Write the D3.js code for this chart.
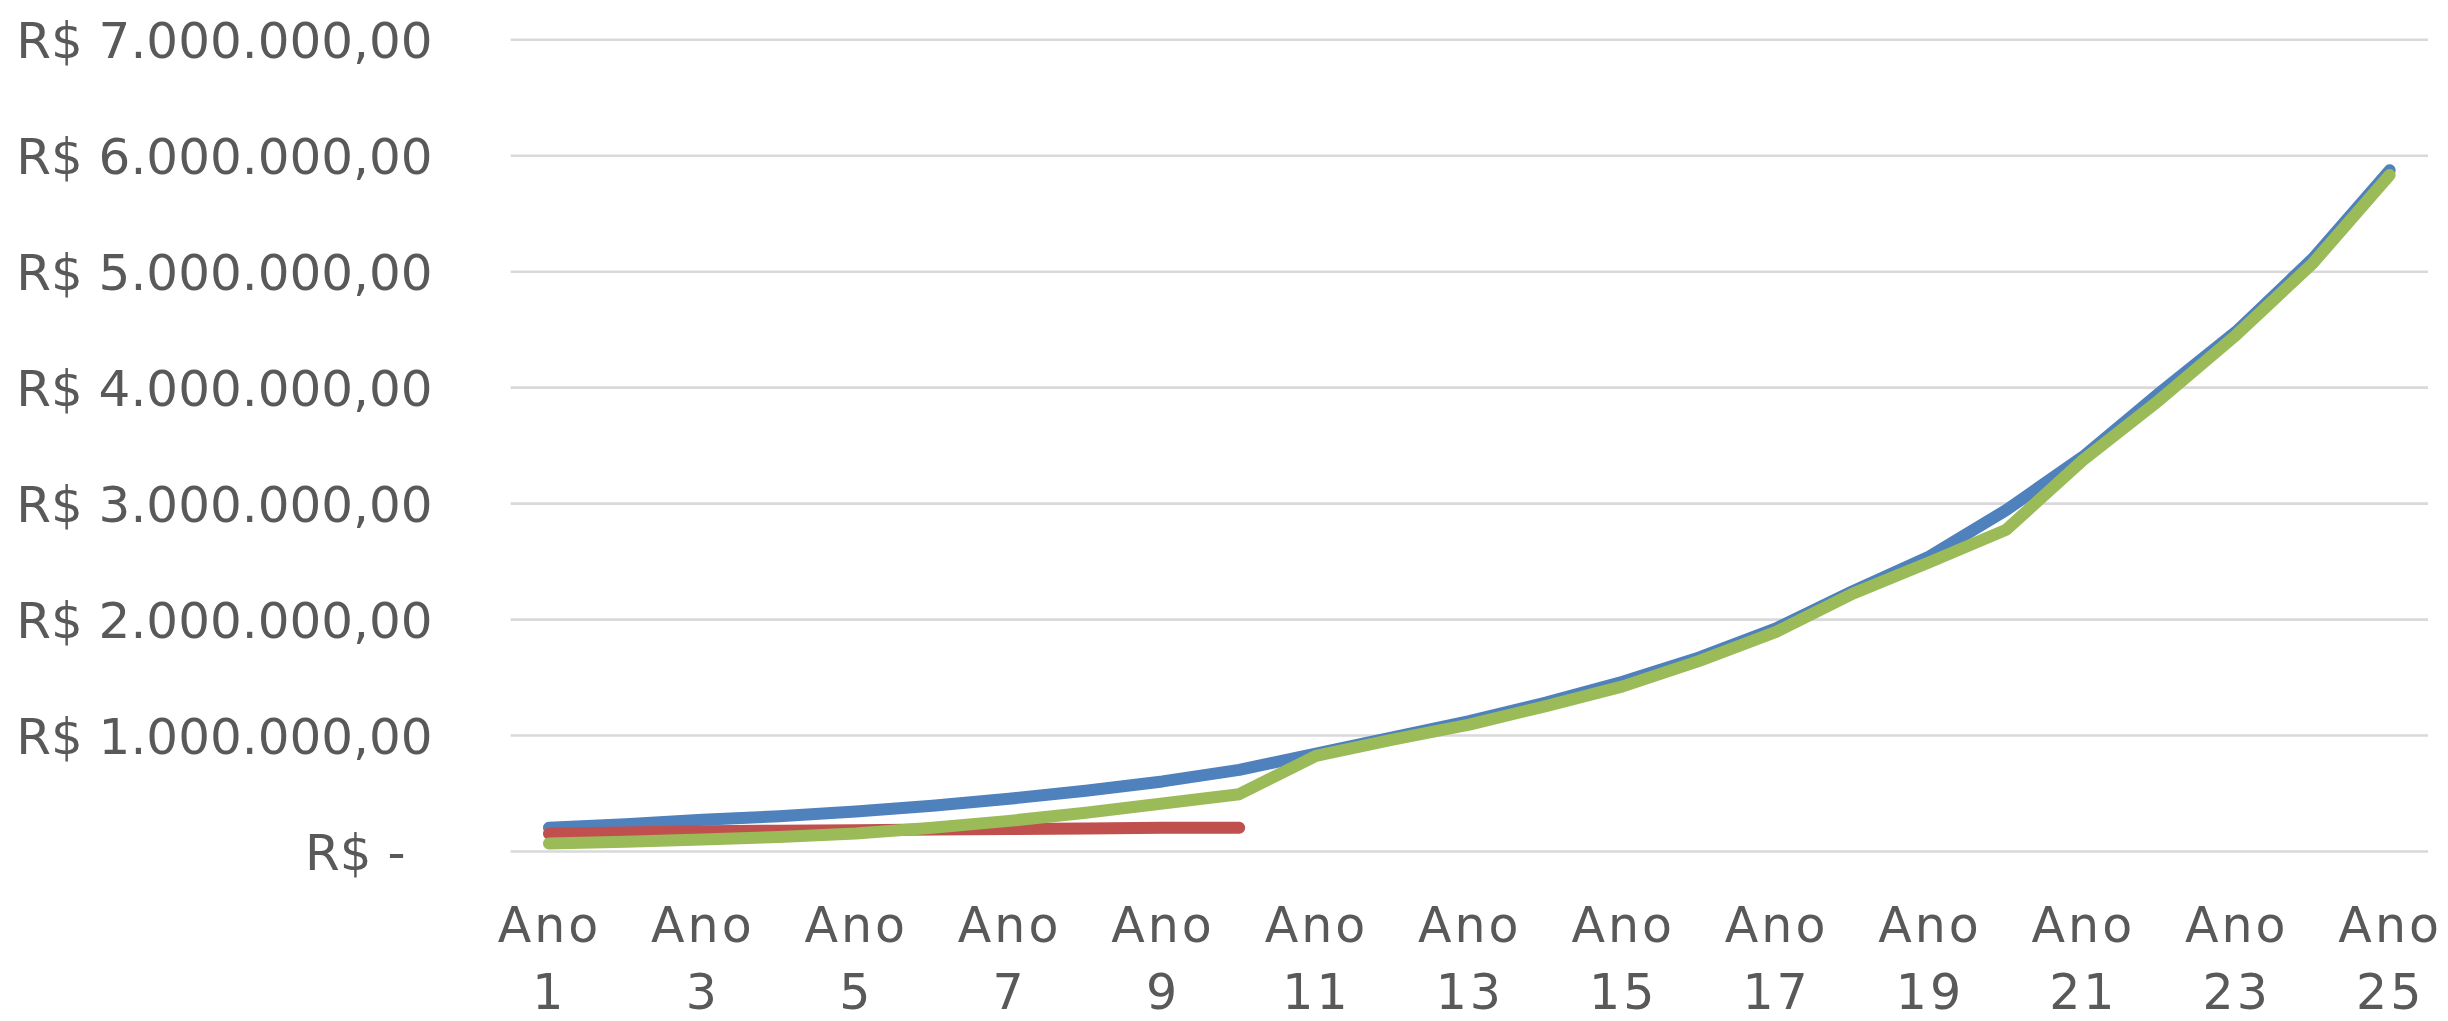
<!DOCTYPE html>
<html>
<head>
<meta charset="utf-8">
<script src="https://cdn.jsdelivr.net/npm/d3@7/dist/d3.min.js"></script>
<style>
	body { margin: 0; background: #fff; }
	svg text { font-family: 'DejaVu Sans', sans-serif; fill: #595959; }
</style>
</head>
<body>
<div id="chart"></div>
<script>
// categories
const years = [
	'Ano 1', 'Ano 2', 'Ano 3', 'Ano 4', 'Ano 5', 'Ano 6', 'Ano 7', 'Ano 8', 'Ano 9',
	'Ano 10', 'Ano 11', 'Ano 12', 'Ano 13', 'Ano 14', 'Ano 15', 'Ano 16', 'Ano 17',
	'Ano 18', 'Ano 19', 'Ano 20', 'Ano 21', 'Ano 22', 'Ano 23', 'Ano 24', 'Ano 25'
];
const shownYears = [
	'Ano 1', 'Ano 3', 'Ano 5', 'Ano 7', 'Ano 9', 'Ano 11', 'Ano 13',
	'Ano 15', 'Ano 17', 'Ano 19', 'Ano 21', 'Ano 23', 'Ano 25'
];

// series values (R$)
const serieAzul = [
	200000, 230000, 270000, 300000, 340000, 390000, 450000, 520000, 600000, 700000,
	840000, 980000, 1120000, 1280000, 1460000, 1670000, 1920000, 2240000, 2540000,
	2940000, 3400000, 3950000, 4480000, 5110000, 5870000
];
const serieVermelha = [
	150000, 160000, 170000, 175000, 180000, 185000, 190000, 195000, 200000, 200000
];
const serieVerde = [
	65000, 80000, 100000, 120000, 150000, 200000, 260000, 330000, 410000, 490000,
	820000, 960000, 1090000, 1250000, 1420000, 1640000, 1890000, 2220000, 2490000,
	2770000, 3370000, 3890000, 4450000, 5070000, 5830000
];

// tick values
const yTicks = [0, 1000000, 2000000, 3000000, 4000000, 5000000, 6000000, 7000000];

const series = [
	{ name: 'azul', color: '#4F81BD', values: serieAzul },
	{ name: 'vermelha', color: '#C0504D', values: serieVermelha },
	{ name: 'verde', color: '#9BBB59', values: serieVerde }
];

const WIDTH = 2448;
const HEIGHT = 1021;
const MARGIN = { top: 39.3, right: 20, bottom: 170, left: 510.6 };
const LABEL_PAD = 78;

const brl = d3.formatLocale({
	decimal: ',',
	thousands: '.',
	grouping: [3],
	currency: ['R$ ', '']
});
const fmtMoney = brl.format('$,.2f');
const fmtTick = d => (d === 0 ? 'R$ -' : fmtMoney(d));

const $svg = d3
	.select('#chart')
	.append('svg')
	.attr('width', WIDTH)
	.attr('height', HEIGHT);

const x = d3
	.scalePoint()
	.domain(years)
	.range([MARGIN.left, WIDTH - MARGIN.right])
	.padding(0.5);

const y = d3
	.scaleLinear()
	.domain([0, 7000000])
	.range([HEIGHT - MARGIN.bottom, MARGIN.top]);

// gridlines
$svg
	.append('g')
	.attr('class', 'grid')
	.attr('transform', `translate(${MARGIN.left},0)`)
	.call(
		d3
			.axisLeft(y)
			.tickValues(yTicks)
			.tickSize(-(WIDTH - MARGIN.right - MARGIN.left))
			.tickFormat('')
	)
	.call(g => g.select('.domain').remove())
	.call(g =>
		g
			.selectAll('.tick line')
			.attr('stroke', '#D9D9D9')
			.attr('stroke-width', 2.6)
	);

// y labels
$svg
	.append('g')
	.attr('class', 'y-axis')
	.attr('transform', `translate(${MARGIN.left},0)`)
	.call(
		d3
			.axisLeft(y)
			.tickValues(yTicks)
			.tickSize(0)
			.tickPadding(LABEL_PAD)
			.tickFormat(fmtTick)
	)
	.call(g => g.select('.domain').remove())
	.call(g =>
		g
			.selectAll('.tick text')
			.attr('x', d => (d === 0 ? -(LABEL_PAD + 27) : -LABEL_PAD))
			.attr('dy', '0.36em')
			.style('font-size', '50px')
	);

// x labels (two lines: "Ano" / number)
const $xAxis = $svg
	.append('g')
	.attr('class', 'x-axis')
	.attr('transform', `translate(0,${HEIGHT - MARGIN.bottom})`)
	.call(d3.axisBottom(x).tickValues(shownYears).tickSize(0).tickFormat(''))
	.call(g => g.select('.domain').remove());

$xAxis.selectAll('.tick text').each(function(d) {
	const parts = d.split(' ');
	const $t = d3
		.select(this)
		.attr('y', null)
		.attr('dy', null)
		.style('font-size', '49px')
		.style('letter-spacing', '3px');
	$t.append('tspan').attr('x', 0).attr('y', 91).text(parts[0]);
	$t.append('tspan').attr('x', 0).attr('y', 158).text(parts[1]);
});

// lines
const line = d3
	.line()
	.x((d, i) => x(years[i]))
	.y(d => y(d));

$svg
	.append('g')
	.attr('class', 'lines')
	.selectAll('path')
	.data(series)
	.join('path')
	.attr('fill', 'none')
	.attr('stroke', d => d.color)
	.attr('stroke-width', 12)
	.attr('stroke-linejoin', 'round')
	.attr('stroke-linecap', 'round')
	.attr('d', d => line(d.values));
</script>
</body>
</html>
